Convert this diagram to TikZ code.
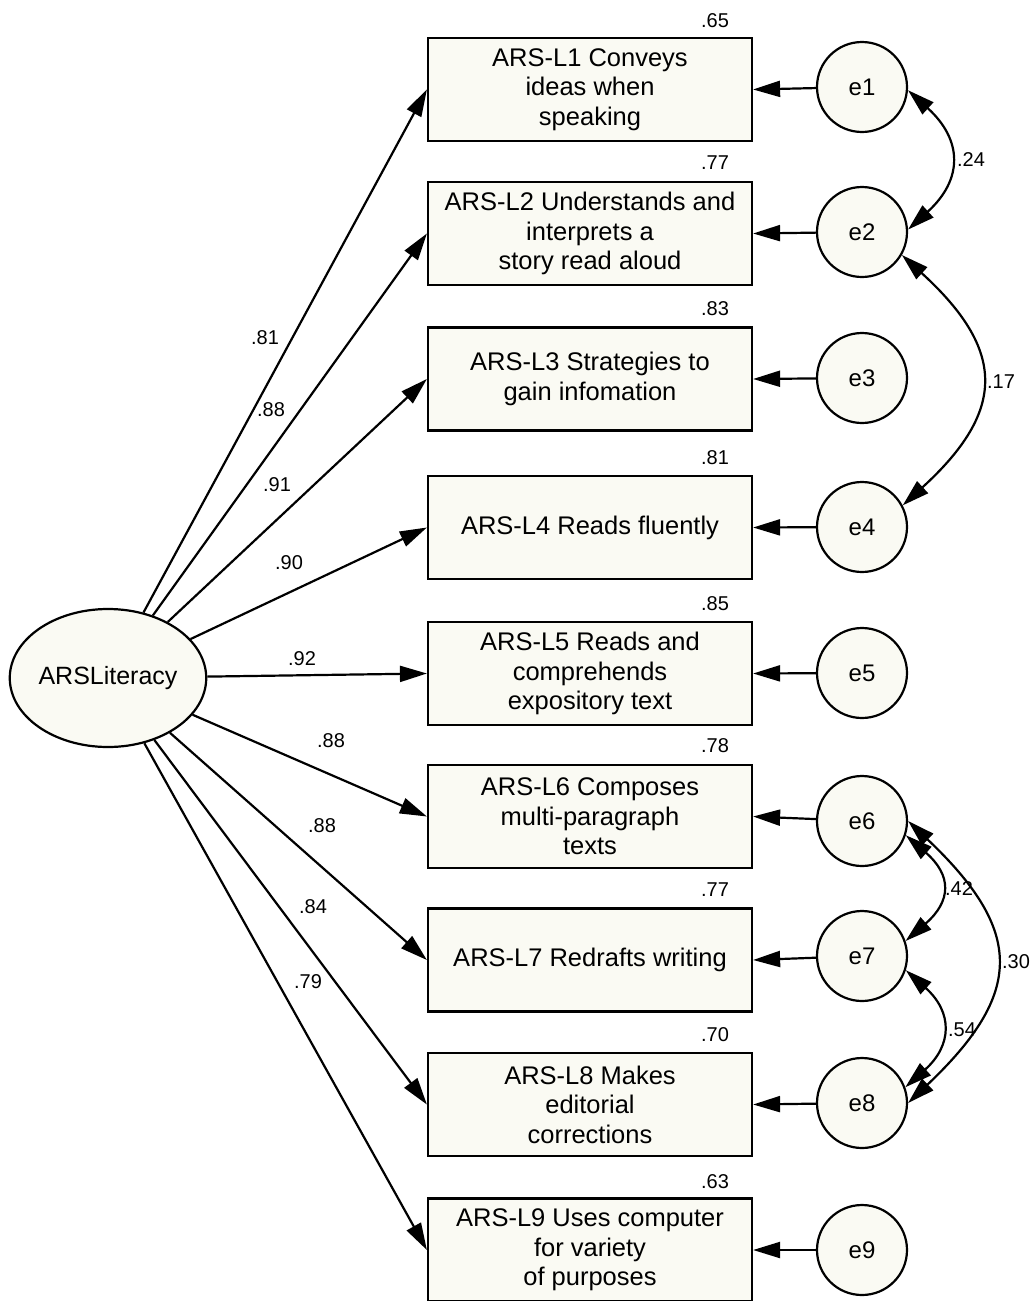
\documentclass[tikz,border=0pt]{standalone}
\usepackage{fontspec}
\setmainfont{Liberation Sans}
\usetikzlibrary{arrows.meta,shapes.geometric}
\definecolor{boxfill}{RGB}{250,250,243}
\begin{document}
\begin{tikzpicture}[x=1pt,y=-1pt,
  obs/.style={draw,line width=2.2pt,fill=boxfill,minimum width=324pt,minimum height=103pt,
    inner sep=0pt,align=center,font=\fontsize{25.5}{29.5}\selectfont},
  err/.style={draw,circle,line width=2.2pt,fill=boxfill,minimum size=90pt,inner sep=0pt,
    font=\fontsize{24}{28}\selectfont},
  lat/.style={draw,ellipse,line width=2.2pt,fill=boxfill,minimum width=192pt,minimum height=138pt,
    inner sep=0pt,font=\fontsize{25}{28}\selectfont},
  link/.style={line width=2.2pt,-{Triangle[length=27pt,width=16pt]}},
  cov/.style={line width=2.2pt,{Triangle[length=27pt,width=16pt]}-{Triangle[length=27pt,width=16pt]}},
  coef/.style={font=\fontsize{20}{22}\selectfont,inner sep=0pt}]
\useasboundingbox (0,0) rectangle (1031,1301);

% latent factor
\node[lat] (F) at (108,678) {ARSLiteracy};

% observed indicators
\node[obs] (b1) at (590,89.5)  {ARS-L1 Conveys\\ideas when\\speaking};
\node[obs] (b2) at (590,233.5) {ARS-L2 Understands and\\interprets a\\story read aloud};
\node[obs] (b3) at (590,379)   {ARS-L3 Strategies to\\gain infomation};
\node[obs] (b4) at (590,527.5) {ARS-L4 Reads fluently};
\node[obs] (b5) at (590,673.5) {ARS-L5 Reads and\\comprehends\\expository text};
\node[obs] (b6) at (590,816.5) {ARS-L6 Composes\\multi-paragraph\\texts};
\node[obs] (b7) at (590,960)   {ARS-L7 Redrafts writing};
\node[obs] (b8) at (590,1104.5){ARS-L8 Makes\\editorial\\corrections};
\node[obs] (b9) at (590,1250)  {ARS-L9 Uses computer\\for variety\\of purposes};

% error terms
\node[err] (e1) at (862,87)   {e1};
\node[err] (e2) at (862,232)  {e2};
\node[err] (e3) at (862,378)  {e3};
\node[err] (e4) at (862,527)  {e4};
\node[err] (e5) at (862,673)  {e5};
\node[err] (e6) at (862,821)  {e6};
\node[err] (e7) at (862,956)  {e7};
\node[err] (e8) at (862,1103) {e8};
\node[err] (e9) at (862,1250) {e9};

% squared multiple correlations
\node[coef] (r1) at (715,21)   {.65};
\node[coef] (r2) at (715,163)  {.77};
\node[coef] (r3) at (715,309)  {.83};
\node[coef] (r4) at (715,458)  {.81};
\node[coef] (r5) at (715,604)  {.85};
\node[coef] (r6) at (715,746)  {.78};
\node[coef] (r7) at (715,890)  {.77};
\node[coef] (r8) at (715,1035) {.70};
\node[coef] (r9) at (715,1182) {.63};

% factor loadings
\foreach \i in {1,...,9} \draw[link] (F) -- (b\i.west);
\node[coef] at (265,338) {.81};
\node[coef] at (271,410) {.88};
\node[coef] at (277,485) {.91};
\node[coef] at (289,563) {.90};
\node[coef] at (302,659) {.92};
\node[coef] at (331,741) {.88};
\node[coef] at (322,826) {.88};
\node[coef] at (313,907) {.84};
\node[coef] at (308,982) {.79};

% error paths
\foreach \i in {1,...,9} \draw[link] (e\i) -- (b\i.east);

% error covariances
\draw[cov] (e1.-4) .. controls +(55,50) and +(55,-50) .. (e2.3);
\draw[cov] (e2.-30) .. controls +(104,95) and +(104,-95) .. (e4.28);
\draw[cov] (e6.-18) .. controls +(46,40) and +(46,-40) .. (e7.19);
\draw[cov] (e7.-18) .. controls +(47,42) and +(47,-42) .. (e8.20);
\draw[cov] (e6.0) .. controls +(116,110) and +(116,-110) .. (e8.0);
\node[coef] at (971,160) {.24};
\node[coef] at (1001,382) {.17};
\node[coef] at (959,889) {.42};
\node[coef] at (962,1030) {.54};
\node[coef] at (1016,962) {.30};
\end{tikzpicture}
\end{document}
